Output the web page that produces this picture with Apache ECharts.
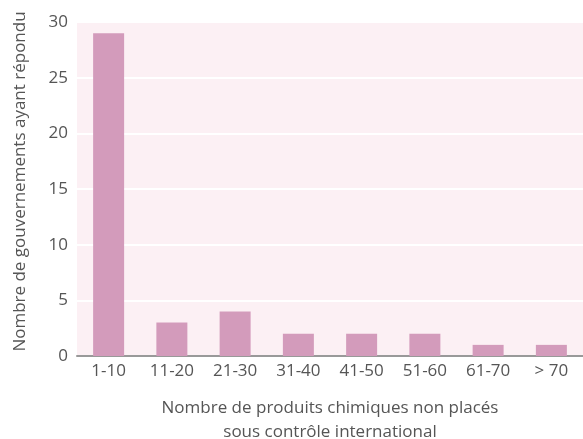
<!DOCTYPE html>
<html>
<head>
<meta charset="utf-8">
<script src="https://cdn.jsdelivr.net/npm/echarts@6/dist/echarts.min.js"></script>
<style>
  html, body { margin: 0; padding: 0; background: #fff; }
  #main { width: 583px; height: 439px; }
</style>
</head>
<body>
<div id="main"></div>
<script>
var categories = ['1-10', '11-20', '21-30', '31-40', '41-50', '51-60', '61-70', '> 70'];
var values = [29, 3, 4, 2, 2, 2, 1, 1];

var myChart = echarts.init(document.getElementById('main'));
var font = '"Open Sans", "Noto Sans", sans-serif';

myChart.setOption({
  animation: false,
  grid: {
    left: 77,
    right: 0,
    top: 22,
    bottom: 83,
    outerBoundsMode: 'none',
    containLabel: false,
    show: true,
    backgroundColor: '#fcf0f4',
    borderWidth: 0
  },
  xAxis: {
    type: 'category',
    data: categories,
    name: 'Nombre de produits chimiques non placés\nsous contrôle international',
    nameLocation: 'middle',
    nameGap: 40,
    nameTextStyle: { color: '#555', fontSize: 17, fontFamily: font, lineHeight: 24 },
    axisLine: { lineStyle: { color: '#999', width: 2 } },
    axisTick: { show: false },
    axisLabel: { color: '#555', fontSize: 17, fontFamily: font, margin: 7 }
  },
  yAxis: {
    type: 'value',
    min: 0,
    max: 30,
    interval: 5,
    name: 'Nombre de gouvernements ayant répondu',
    nameLocation: 'middle',
    nameGap: 48,
    nameTextStyle: { color: '#555', fontSize: 17, fontFamily: font, padding: [0, 0, 0, 15] },
    axisLine: { show: false },
    axisTick: { show: false },
    axisLabel: { color: '#555', fontSize: 17, fontFamily: font, margin: 9 },
    splitLine: { lineStyle: { color: '#ffffff', width: 2 } }
  },
  series: [{
    type: 'bar',
    data: values,
    barWidth: '49%',
    itemStyle: { color: '#d39bbb' }
  }]
});
</script>
</body>
</html>
